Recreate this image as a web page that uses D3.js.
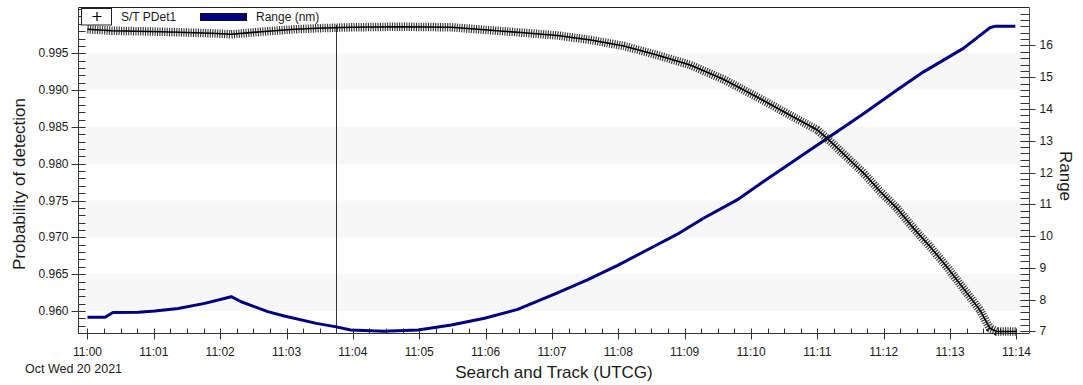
<!DOCTYPE html>
<html><head><meta charset="utf-8">
<script src="https://cdn.jsdelivr.net/npm/d3@7"></script>
<style>
body{margin:0;background:#fff}
svg{display:block}
text{font-family:Arial,"Liberation Sans",sans-serif;fill:#1a1a1a}
</style>
</head><body>
<svg id="chart" width="1083" height="385"></svg>
<script>
// ---- data (seconds after 11:00:00 UTCG, Oct 20 2021) ----
const rangeSeconds = [0, 16, 23, 46, 61, 82, 106, 130, 139, 163, 178, 207, 225, 238, 268, 299, 329, 359, 389, 425, 452, 479, 506, 533, 557, 587, 611, 641, 671, 702, 732, 756, 792, 816, 821, 839];
const rangeValues  = [7.44, 7.44, 7.59, 7.60, 7.64, 7.72, 7.88, 8.09, 7.93, 7.62, 7.48, 7.25, 7.14, 7.04, 7.00, 7.04, 7.20, 7.41, 7.69, 8.21, 8.62, 9.07, 9.56, 10.05, 10.56, 11.13, 11.71, 12.42, 13.13, 13.86, 14.60, 15.17, 15.91, 16.56, 16.61, 16.61];

const pdetSeconds = [0, 22, 67, 112, 130, 157, 187, 208, 238, 283, 329, 353, 389, 425, 455, 485, 515, 545, 575, 605, 635, 660, 672, 690, 702, 717, 732, 747, 762, 777, 792, 807, 816, 822, 840];
const pdetValues  = [0.99826, 0.99807, 0.99793, 0.99772, 0.99758, 0.99793, 0.99826, 0.99840, 0.99853, 0.99861, 0.99853, 0.99826, 0.99785, 0.99742, 0.99681, 0.99599, 0.99477, 0.99341, 0.99147, 0.98910, 0.98662, 0.98458, 0.98299, 0.98041, 0.97870, 0.97620, 0.97394, 0.97122, 0.96872, 0.96601, 0.96307, 0.96012, 0.95764, 0.95722, 0.95722];

const timeTickLabels = ["11:00","11:01","11:02","11:03","11:04","11:05","11:06","11:07","11:08","11:09","11:10","11:11","11:12","11:13","11:14"];
const leftTickValues = [0.960, 0.965, 0.970, 0.975, 0.980, 0.985, 0.990, 0.995];
const rightTickValues = [7, 8, 9, 10, 11, 12, 13, 14, 15, 16];
const dateLabel = "Oct Wed 20 2021";
const cursorSecond = 225;
const cursorTopValue = 0.99885;
const legendLabels = ["S/T PDet1", "Range (nm)"];
const xTitle = "Search and Track (UTCG)";
const yLeftTitle = "Probability of detection";
const yRightTitle = "Range";

// ---- layout ----
const L = 78.5, R = 1029.5, T = 7.5, B = 333.5;
const svg = d3.select("#chart");

const x = d3.scaleLinear().domain([-8.1, 851.8]).range([L, R]);
const yL = d3.scaleLinear().domain([0.95694, 1.00122]).range([B, T]);
const yR = d3.scaleLinear().domain([6.9307, 17.1966]).range([B, T]);

// bands
const bands = [];
for (let i = 0; i + 1 < leftTickValues.length; i += 2) bands.push([leftTickValues[i], leftTickValues[i+1]]);
svg.append("g").selectAll("rect").data(bands).join("rect")
  .attr("x", L).attr("width", R - L)
  .attr("y", d => yL(d[1])).attr("height", d => yL(d[0]) - yL(d[1]))
  .attr("fill", "#f7f7f7");

// frame
svg.append("line").attr("x1", L).attr("x2", R).attr("y1", T).attr("y2", T).attr("stroke", "#222");
svg.append("line").attr("x1", L).attr("x2", L).attr("y1", T).attr("y2", B).attr("stroke", "#333");
svg.append("line").attr("x1", R).attr("x2", R).attr("y1", T).attr("y2", B).attr("stroke", "#555");
svg.append("line").attr("x1", L).attr("x2", R).attr("y1", B).attr("y2", B).attr("stroke", "#333");

const axG = svg.append("g").attr("stroke", "#333").attr("stroke-width", 1);

// left minor ticks (every 0.001)
const leftMinor = d3.range(957, 1002).map(v => v / 1000).filter(v => yL(v) >= T && yL(v) <= B);
axG.selectAll(".lmin").data(leftMinor).join("line")
  .attr("x1", L).attr("x2", L + 7)
  .attr("y1", d => Math.round(yL(d)) + 0.5).attr("y2", d => Math.round(yL(d)) + 0.5);
axG.selectAll(".lmaj").data(leftTickValues).join("line")
  .attr("x1", L - 7).attr("x2", L + 7)
  .attr("y1", d => Math.round(yL(d)) + 0.5).attr("y2", d => Math.round(yL(d)) + 0.5);
svg.append("g").selectAll("text").data(leftTickValues).join("text")
  .attr("x", L - 10).attr("y", d => yL(d) + 4)
  .attr("text-anchor", "end").attr("font-size", 12)
  .text(d => d3.format(".3f")(d));

// right minor ticks (every 0.2)
const rightMinor = d3.range(35, 87).map(v => v / 5).filter(v => yR(v) >= T + 2 && yR(v) <= B);
axG.selectAll(".rmin").data(rightMinor).join("line")
  .attr("x1", R - 9).attr("x2", R)
  .attr("y1", d => Math.round(yR(d)) + 0.5).attr("y2", d => Math.round(yR(d)) + 0.5);
axG.selectAll(".rmaj").data(rightTickValues).join("line")
  .attr("x1", R - 9).attr("x2", R + 6)
  .attr("y1", d => Math.round(yR(d)) + 0.5).attr("y2", d => Math.round(yR(d)) + 0.5);
svg.append("g").selectAll("text").data(rightTickValues).join("text")
  .attr("x", R + 10).attr("y", d => yR(d) + 4)
  .attr("font-size", 12)
  .text(d => d);

// bottom ticks
const majorSecs = timeTickLabels.map((_, i) => i * 60);
const minorSecs = d3.range(0, 852, 15).filter(s => s % 60 !== 0);
axG.selectAll(".bmin").data(minorSecs).join("line")
  .attr("x1", d => Math.round(x(d)) + 0.5).attr("x2", d => Math.round(x(d)) + 0.5)
  .attr("y1", B - 5).attr("y2", B);
axG.selectAll(".bmaj").data(majorSecs).join("line")
  .attr("x1", d => Math.round(x(d)) + 0.5).attr("x2", d => Math.round(x(d)) + 0.5)
  .attr("y1", B - 5).attr("y2", B + 6);
svg.append("g").selectAll("text").data(timeTickLabels).join("text")
  .attr("x", (d, i) => x(majorSecs[i])).attr("y", 356)
  .attr("text-anchor", "middle").attr("font-size", 12)
  .text(d => d);

svg.append("text").attr("x", 25).attr("y", 373).attr("font-size", 12.5).text(dateLabel);

// titles
svg.append("text").attr("x", (L + R) / 2).attr("y", 378).attr("text-anchor", "middle")
  .attr("font-size", 17).text(xTitle);
svg.append("text").attr("transform", "translate(25,184) rotate(-90)").attr("text-anchor", "middle")
  .attr("font-size", 17).text(yLeftTitle);
svg.append("text").attr("transform", "translate(1060,176) rotate(90)").attr("text-anchor", "middle")
  .attr("font-size", 17).text(yRightTitle);

// cursor line
svg.append("line")
  .attr("x1", Math.round(x(cursorSecond)) + 0.5).attr("x2", Math.round(x(cursorSecond)) + 0.5)
  .attr("y1", yL(cursorTopValue)).attr("y2", B)
  .attr("stroke", "#333").attr("stroke-width", 1);

// range line
const rangeData = rangeSeconds.map((s, i) => [s, rangeValues[i]]);
svg.append("path").datum(rangeData)
  .attr("fill", "none").attr("stroke", "#000080").attr("stroke-width", 3)
  .attr("stroke-linejoin", "round").attr("stroke-linecap", "butt")
  .attr("d", d3.line().x(d => x(d[0])).y(d => yR(d[1])));

// PDet: dense '+' markers rendered as a hatched band plus center line
const pdetData = pdetSeconds.map((s, i) => [s, pdetValues[i]]);
const pdetLine = d3.line().x(d => x(d[0])).y(d => yL(d[1]));
svg.append("path").datum(pdetData)
  .attr("fill", "none").attr("stroke", "#000").attr("stroke-opacity", 0.8)
  .attr("stroke-width", 8.5).attr("stroke-dasharray", "1.1 1.3")
  .attr("d", pdetLine);
svg.append("path").datum(pdetData)
  .attr("fill", "none").attr("stroke", "#000").attr("stroke-width", 1.6)
  .attr("d", pdetLine);

// legend
const lg = svg.append("g");
lg.append("rect").attr("x", 81.5).attr("y", 8.5).attr("width", 30).attr("height", 16.5)
  .attr("fill", "#fff").attr("stroke", "#222");
lg.append("path").attr("d", "M92.5,16.5H101.5M97,12V21").attr("stroke", "#000").attr("stroke-width", 1.2);
lg.append("text").attr("x", 121).attr("y", 20.5).attr("font-size", 12).text(legendLabels[0]);
lg.append("rect").attr("x", 200.5).attr("y", 13.5).attr("width", 46).attr("height", 7)
  .attr("fill", "#000080").attr("stroke", "#111");
lg.append("text").attr("x", 256).attr("y", 20.5).attr("font-size", 12).text(legendLabels[1]);
</script>
</body></html>
